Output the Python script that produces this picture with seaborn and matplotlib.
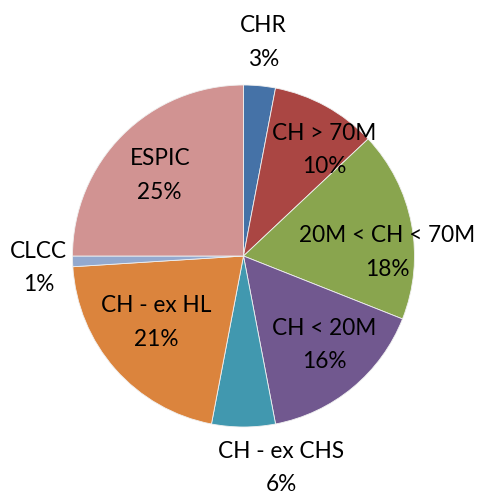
import matplotlib
matplotlib.use("Agg")
import matplotlib.pyplot as plt
import seaborn as sns

categories = ["CHR", "CH > 70M", "20M < CH < 70M", "CH < 20M",
              "CH - ex CHS", "CH - ex HL", "CLCC", "ESPIC"]
values = [3, 10, 18, 16, 6, 21, 1, 25]
colors = ["#4572A7", "#AA4643", "#89A54E", "#71588F",
          "#4198AF", "#DB843D", "#93A9CF", "#D19392"]

# label offsets (in pie-radius units) relative to the pie centre
label_pos = [(0.115, 1.25), (0.47, 0.62), (0.84, 0.02), (0.47, -0.52),
             (0.22, -1.24), (-0.51, -0.39), (-1.20, -0.07), (-0.49, 0.47)]

sns.set_theme(style="white")
plt.rcParams['font.family'] = ['Lato', 'DejaVu Sans']

W, H = 481, 495
fig = plt.figure(figsize=(W / 100, H / 100), dpi=100)
ax = fig.add_axes([0, 0, 1, 1])
R = 171.0
cx, cy = 243.5, 256.0
ax.pie(values, colors=sns.color_palette(colors), startangle=90, counterclock=False,
       radius=1, wedgeprops=dict(edgecolor="#f0f0f0", linewidth=0.6))
ax.set_xlim(-cx / R, (W - cx) / R)
ax.set_ylim(-(H - cy) / R, cy / R)
ax.set_aspect("auto")
ax.axis("off")

for cat, v, (x, y) in zip(categories, values, label_pos):
    ax.text(x, y, f"{cat}\n{v}%", ha="center", va="center", fontsize=16.3,
            color="black", linespacing=1.75)

fig.savefig("out.png", dpi=100, facecolor="white")
